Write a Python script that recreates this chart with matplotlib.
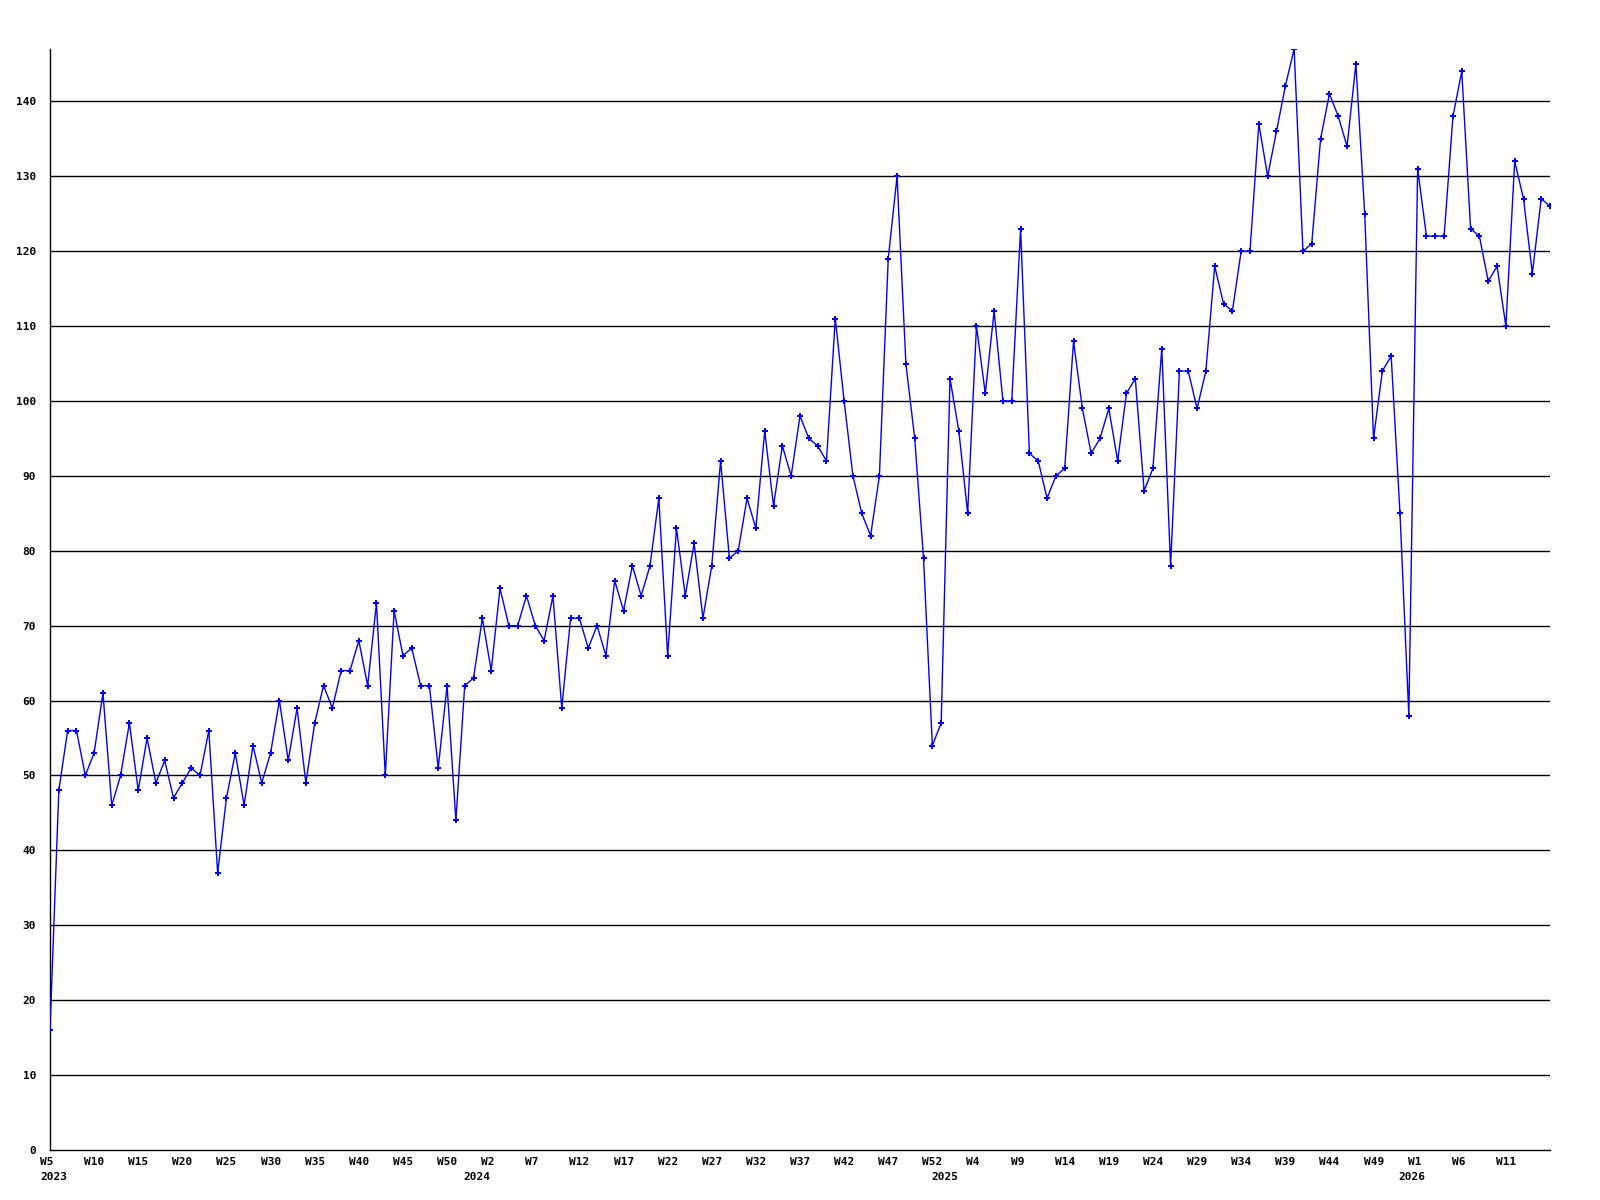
import matplotlib
matplotlib.use("Agg")
import matplotlib.pyplot as plt
import matplotlib.transforms as mtransforms

BLUE = "#0000FF"
BLACK = "#000000"

# weekly values, first point = 2023 W5
values = [16, 48, 56, 56, 50, 53, 61, 46, 50, 57,
          48, 55, 49, 52, 47, 49, 51, 50, 56, 37,
          47, 53, 46, 54, 49, 53, 60, 52, 59, 49,
          57, 62, 59, 64, 64, 68, 62, 73, 50, 72,
          66, 67, 62, 62, 51, 62, 44, 62, 63, 71,
          64, 75, 70, 70, 74, 70, 68, 74, 59, 71,
          71, 67, 70, 66, 76, 72, 78, 74, 78, 87,
          66, 83, 74, 81, 71, 78, 92, 79, 80, 87,
          83, 96, 86, 94, 90, 98, 95, 94, 92, 111,
          100, 90, 85, 82, 90, 119, 130, 105, 95, 79,
          54, 57, 103, 96, 85, 110, 101, 112, 100, 100,
          123, 93, 92, 87, 90, 91, 108, 99, 93, 95,
          99, 92, 101, 103, 88, 91, 107, 78, 104, 104,
          99, 104, 118, 113, 112, 120, 120, 137, 130, 136,
          142, 147, 120, 121, 135, 141, 138, 134, 145, 125,
          95, 104, 106, 85, 58, 131, 122, 122, 122, 138,
          144, 123, 122, 116, 118, 110, 132, 127, 117, 127,
          126]

week_labels = ["W5", "W10", "W15", "W20", "W25", "W30", "W35", "W40", "W45", "W50",
               "W2", "W7", "W12", "W17", "W22", "W27", "W32", "W37", "W42", "W47", "W52",
               "W4", "W9", "W14", "W19", "W24", "W29", "W34", "W39", "W44", "W49",
               "W1", "W6", "W11"]
week_ticks = list(range(0, 5 * len(week_labels), 5))

years = ["2023", "2024", "2025", "2026"]
year_pos = [0, 48, 101, 154]

y_ticks = list(range(0, 150, 10))

FONT = dict(family="DejaVu Sans Mono", fontweight="bold", fontsize=8)

fig = plt.figure(figsize=(16, 12), dpi=100)
fig.patch.set_facecolor("white")
ax = fig.add_axes([0.03125, 0.0417, 0.9375, 0.9175])

x = list(range(len(values)))
ax.plot(x, values, color=BLUE, linewidth=1.0, marker="P", markersize=4,
        markeredgewidth=0, zorder=3)

ax.set_xlim(0, len(values) - 1)
ax.set_ylim(0, max(values))

# horizontal grid lines
for yv in y_ticks[1:]:
    ax.axhline(yv, color=BLACK, linewidth=1.0, zorder=1)

for side in ("top", "right"):
    ax.spines[side].set_visible(False)
for side in ("left", "bottom"):
    ax.spines[side].set_color(BLACK)
    ax.spines[side].set_linewidth(1.0)

ax.set_yticks(y_ticks)
ax.set_yticklabels([str(v) for v in y_ticks], **FONT)
ax.tick_params(axis="y", length=0, pad=10)

ax.set_xticks(week_ticks)
ax.set_xticklabels(week_labels, ha="left", **FONT)
ax.tick_params(axis="x", length=0, pad=5)
offset = mtransforms.ScaledTranslation(-10 / 100, 0, fig.dpi_scale_trans)
for lbl in ax.get_xticklabels():
    lbl.set_transform(lbl.get_transform() + offset)

trans = mtransforms.blended_transform_factory(ax.transData, ax.transAxes)
for yr, pos in zip(years, year_pos):
    ax.text(pos, 0, yr, transform=trans + offset + mtransforms.ScaledTranslation(0, -22 / 100, fig.dpi_scale_trans),
            ha="left", va="top", **FONT)

fig.savefig("out.png", dpi=100, facecolor="white")
